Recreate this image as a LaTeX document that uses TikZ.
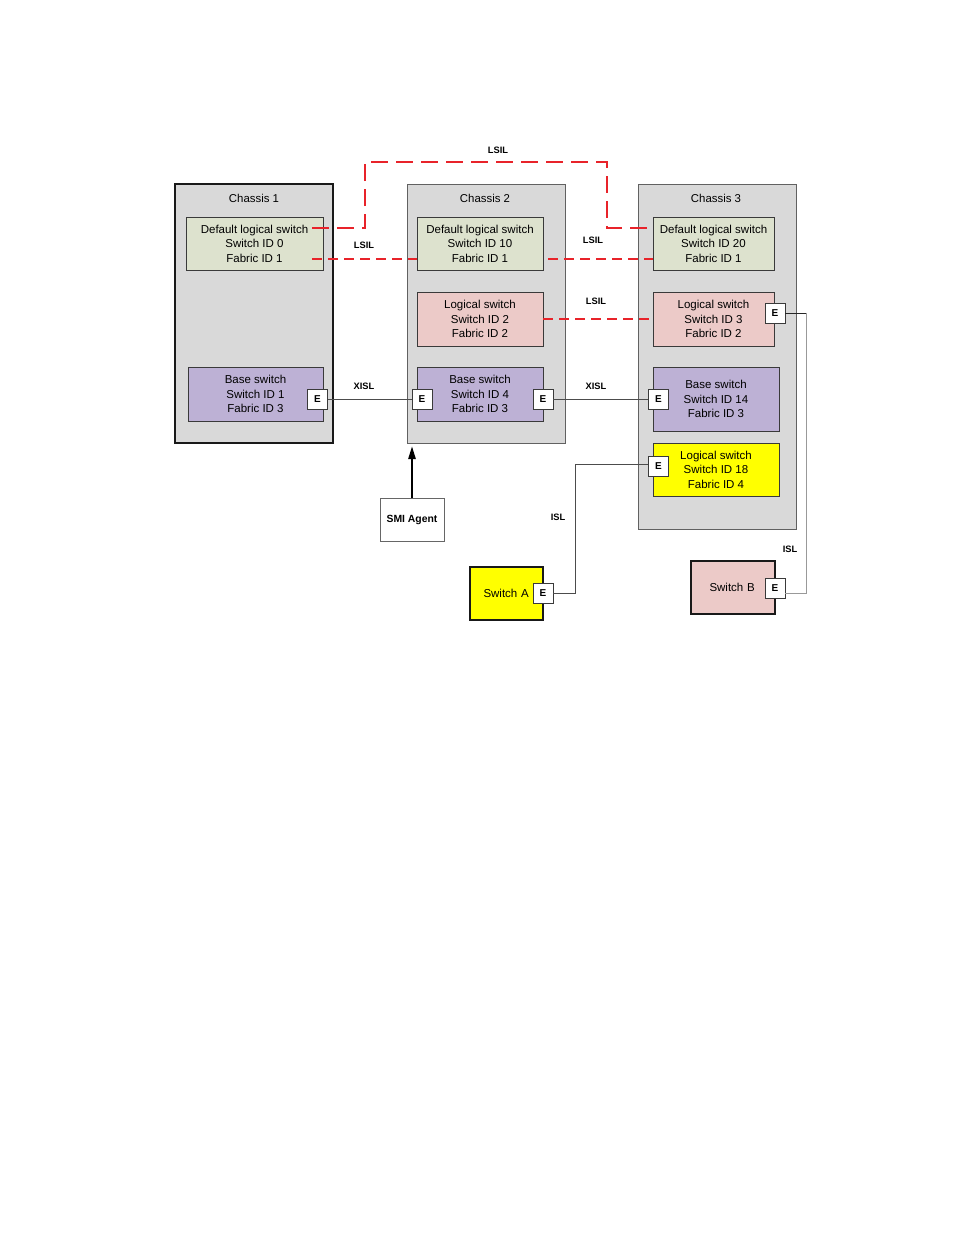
\documentclass[tikz,border=0pt]{standalone}
\usepackage{fontspec}
\setmainfont{Liberation Sans}
\usetikzlibrary{arrows.meta}
\definecolor{chfill}{HTML}{D9D9D9}
\definecolor{dgreen}{HTML}{DDE2CE}
\definecolor{lpink}{HTML}{ECCAC8}
\definecolor{lav}{HTML}{BDB1D5}
\definecolor{yel}{HTML}{FFFF00}
\definecolor{lsred}{HTML}{E8232A}
\definecolor{bord}{HTML}{3A3A3A}
\tikzset{
  chassis/.style={draw=bord!80, fill=chfill, line width=1pt},
  swbox/.style={draw=bord, line width=0.9pt, inner sep=0pt, align=center,
    font=\fontsize{11.5}{14.5}\selectfont},
  ebox/.style={draw=bord, fill=white, line width=0.9pt, minimum width=20pt,
    minimum height=20pt, inner sep=0pt, font=\bfseries\fontsize{10}{11}\selectfont},
  lbl/.style={font=\bfseries\fontsize{9.3}{10}\selectfont, inner sep=0pt},
  chlbl/.style={font=\fontsize{11.4}{12}\selectfont, inner sep=0pt},
  lsilthick/.style={draw=lsred, line width=2.4pt, dash pattern=on 17pt off 8pt},
  lsilthin/.style={draw=lsred, line width=1.5pt, dash pattern=on 10pt off 6pt},
  link/.style={draw=black!70, line width=0.9pt},
  glink/.style={draw=black!40, line width=0.9pt},
}
\begin{document}
\begin{tikzpicture}[x=1pt,y=-1pt]
\useasboundingbox[fill=white] (0,0) rectangle (954,1235);
% chassis
\draw[chassis, draw=black!90, line width=1.6pt] (175,184) rectangle (333,443);
\draw[chassis] (407,184) rectangle (565,443);
\draw[chassis] (638,184) rectangle (796,529);
\node[chlbl] (ch1) at (254,198) {Chassis 1};
\node[chlbl] (ch2) at (485,198) {Chassis 2};
\node[chlbl] (ch3) at (716,198) {Chassis 3};
% chassis 1
\node[swbox, fill=dgreen, minimum width=137pt, minimum height=53pt] (c1d) at (254.5,243.5)
  {Default logical switch\\Switch ID 0\\Fabric ID 1};
\node[swbox, fill=lav, minimum width=135pt, minimum height=54pt] (c1b) at (255.5,394)
  {Base switch\\Switch ID 1\\Fabric ID 3};
\node[ebox] (e1) at (317.5,399) {E};
% chassis 2
\node[swbox, fill=dgreen, minimum width=126pt, minimum height=53pt] (c2d) at (480,243.5)
  {Default logical switch\\Switch ID 10\\Fabric ID 1};
\node[swbox, fill=lpink, minimum width=126pt, minimum height=54pt] (c2l) at (480,319)
  {Logical switch\\Switch ID 2\\Fabric ID 2};
\node[swbox, fill=lav, minimum width=126pt, minimum height=54pt] (c2b) at (480,394)
  {Base switch\\Switch ID 4\\Fabric ID 3};
\node[ebox] (e2l) at (422,399) {E};
\node[ebox] (e2r) at (543,399) {E};
% chassis 3
\node[swbox, fill=dgreen, minimum width=121pt, minimum height=53pt] (c3d) at (713.5,243.5)
  {Default logical switch\\Switch ID 20\\Fabric ID 1};
\node[swbox, fill=lpink, minimum width=121pt, minimum height=54pt] (c3l) at (713.5,319)
  {Logical switch\\Switch ID 3\\Fabric ID 2};
\node[ebox] (e3l) at (775,313) {E};
\node[swbox, fill=lav, minimum width=126pt, minimum height=64pt] (c3b) at (716,399)
  {Base switch\\Switch ID 14\\Fabric ID 3};
\node[ebox] (e3b) at (658.5,399) {E};
\node[swbox, fill=yel, minimum width=126pt, minimum height=53pt] (c3y) at (716,469.5)
  {Logical switch\\Switch ID 18\\Fabric ID 4};
\node[ebox] (e3y) at (658.5,466) {E};
% outside
\node[swbox, draw=black!60, fill=white, line width=0.7pt, minimum width=64pt, minimum height=43pt,
  font=\bfseries\fontsize{10.4}{12}\selectfont] (smi) at (412,519.5) {SMI Agent};
\node[swbox, draw=black!90, line width=1.4pt, fill=yel, minimum width=73pt, minimum height=53pt,
  text width=73pt, align=left] (swa) at (506.5,593.5) {\hspace{13.5pt}Switch A};
\node[ebox] (ea) at (543,593) {E};
\node[swbox, draw=black!90, line width=1.4pt, fill=lpink, minimum width=84pt, minimum height=53pt,
  text width=84pt, align=left] (swb) at (733,587.5) {\hspace{18.5pt}Switch B};
\node[ebox] (eb) at (775,588) {E};
% links
\draw[link] (e1.east) -- (e2l.west);
\draw[link] (e2r.east) -- (e3b.west);
\node[lbl] (x1) at (364,386) {XISL};
\node[lbl] (x2) at (596,386) {XISL};
\draw[link] (ea.east) -- (575,593) -- (575,464) -- (e3y.west |- 0,464);
\node[lbl] (i1) at (558,517) {ISL};
\draw[link, draw=black!85] (e3l.east) -- (806,313);
\draw[glink] (806,313) -- (806,593) -- (eb.east |- 0,593);
\node[lbl] (i2) at (790,549) {ISL};
\draw[-{Triangle[length=13pt,width=7pt]}, line width=2.4pt] (smi.north) -- (412,446);
% LSIL
\coordinate (a1) at (312,228);
\draw[lsilthick] (a1) -- (365,228) -- (365,162) -- (607,162) -- (607,228) -- (c3d.west |- 0,228);
\node[lbl] (ls0) at (498,150) {LSIL};
\coordinate (a2) at (312,259);
\draw[lsilthin] (a2) -- (c2d.west |- 0,259);
\node[lbl] (ls1) at (364,245) {LSIL};
\coordinate (a3) at (548,259);
\draw[lsilthin] (a3) -- (c3d.west |- 0,259);
\node[lbl] (ls2) at (593,240) {LSIL};
\draw[lsilthin] (c2l.east) -- (c3l.west);
\node[lbl] (ls3) at (596,301) {LSIL};
\end{tikzpicture}
\end{document}
